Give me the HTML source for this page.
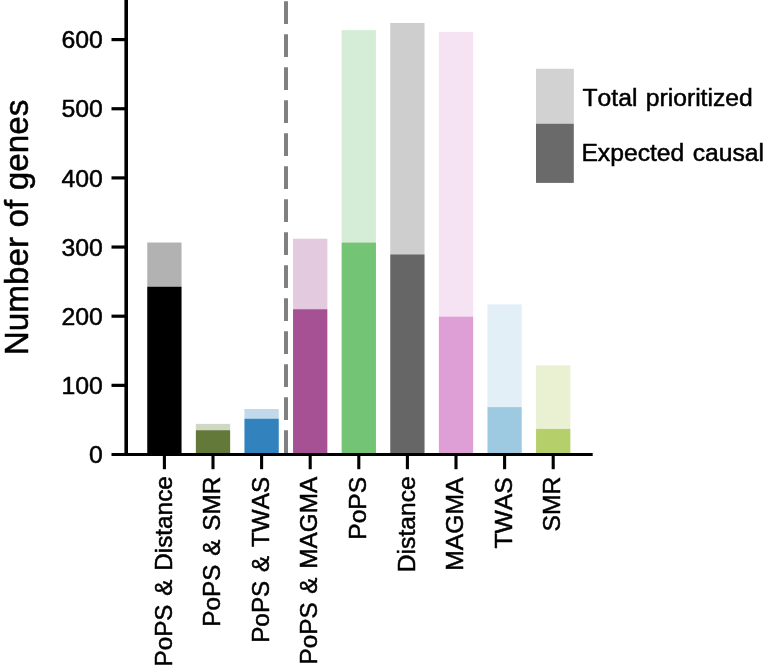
<!DOCTYPE html>
<html lang="en">
<head>
<meta charset="utf-8">
<title>Number of genes</title>
<style>
html,body{margin:0;padding:0;background:#fff;}
body{width:765px;height:668px;overflow:hidden;}
svg{display:block;}
text{font-family:"Liberation Sans",Arial,Helvetica,sans-serif;fill:#000;font-kerning:none;stroke:#000;stroke-width:0.5px;stroke-linejoin:round;}
.xl{font-size:24.7px;word-spacing:0.6px;}
.xc{font-size:24.3px;word-spacing:2px;}
.lg{font-size:24.7px;word-spacing:1.5px;}
.yl{font-size:33.3px;word-spacing:0.2px;}
.tk{font-size:24.8px;}
</style>
</head>
<body>
<svg width="765" height="668" viewBox="0 0 765 668">
<rect x="0" y="0" width="765" height="668" fill="#ffffff"/>
<rect x="147.25" y="242.50" width="34.3" height="44.20" fill="#000000" fill-opacity="0.3"/>
<rect x="147.25" y="286.70" width="34.3" height="166.50" fill="#000000"/>
<rect x="195.85" y="423.90" width="34.3" height="6.30" fill="#637939" fill-opacity="0.3"/>
<rect x="195.85" y="430.20" width="34.3" height="23.00" fill="#637939"/>
<rect x="244.45" y="409.00" width="34.3" height="9.70" fill="#3182bd" fill-opacity="0.3"/>
<rect x="244.45" y="418.70" width="34.3" height="34.50" fill="#3182bd"/>
<rect x="293.05" y="238.70" width="34.3" height="70.50" fill="#a55194" fill-opacity="0.3"/>
<rect x="293.05" y="309.20" width="34.3" height="144.00" fill="#a55194"/>
<rect x="341.65" y="30.10" width="34.3" height="212.40" fill="#74c476" fill-opacity="0.3"/>
<rect x="341.65" y="242.50" width="34.3" height="210.70" fill="#74c476"/>
<rect x="390.25" y="23.00" width="34.3" height="231.40" fill="#cecece"/>
<rect x="390.25" y="254.40" width="34.3" height="198.80" fill="#666666"/>
<rect x="438.85" y="31.90" width="34.3" height="284.70" fill="#de9ed6" fill-opacity="0.3"/>
<rect x="438.85" y="316.60" width="34.3" height="136.60" fill="#de9ed6"/>
<rect x="487.45" y="304.40" width="34.3" height="102.70" fill="#9ecae1" fill-opacity="0.3"/>
<rect x="487.45" y="407.10" width="34.3" height="46.10" fill="#9ecae1"/>
<rect x="536.05" y="365.30" width="34.3" height="63.60" fill="#b5cf6b" fill-opacity="0.3"/>
<rect x="536.05" y="428.90" width="34.3" height="24.30" fill="#b5cf6b"/>
<line x1="286" y1="452.90" x2="286" y2="-20" stroke="#808080" stroke-width="4" stroke-dasharray="22.6 10.4"/>
<line x1="126.2" y1="0" x2="126.2" y2="456.10" stroke="#000" stroke-width="3.6"/>
<line x1="111.5" y1="454.5" x2="592.7" y2="454.5" stroke="#000" stroke-width="3.2"/>
<line x1="111.5" y1="385.35" x2="126.2" y2="385.35" stroke="#000" stroke-width="3.2"/>
<line x1="111.5" y1="316.20" x2="126.2" y2="316.20" stroke="#000" stroke-width="3.2"/>
<line x1="111.5" y1="247.05" x2="126.2" y2="247.05" stroke="#000" stroke-width="3.2"/>
<line x1="111.5" y1="177.90" x2="126.2" y2="177.90" stroke="#000" stroke-width="3.2"/>
<line x1="111.5" y1="108.75" x2="126.2" y2="108.75" stroke="#000" stroke-width="3.2"/>
<line x1="111.5" y1="39.60" x2="126.2" y2="39.60" stroke="#000" stroke-width="3.2"/>
<text x="102.8" y="463.20" class="tk" text-anchor="end">0</text>
<text x="102.8" y="394.05" class="tk" text-anchor="end">100</text>
<text x="102.8" y="324.90" class="tk" text-anchor="end">200</text>
<text x="102.8" y="255.75" class="tk" text-anchor="end">300</text>
<text x="102.8" y="186.60" class="tk" text-anchor="end">400</text>
<text x="102.8" y="117.45" class="tk" text-anchor="end">500</text>
<text x="102.8" y="48.30" class="tk" text-anchor="end">600</text>
<line x1="164.4" y1="454.5" x2="164.4" y2="469.2" stroke="#000" stroke-width="3.1"/>
<text transform="translate(171.60,476.20) rotate(-90)" class="xc" text-anchor="end">PoPS &amp; Distance</text>
<line x1="213.0" y1="454.5" x2="213.0" y2="469.2" stroke="#000" stroke-width="3.1"/>
<text transform="translate(220.20,476.80) rotate(-90)" class="xc" text-anchor="end">PoPS &amp; SMR</text>
<line x1="261.6" y1="454.5" x2="261.6" y2="469.2" stroke="#000" stroke-width="3.1"/>
<text transform="translate(268.80,476.80) rotate(-90)" class="xc" text-anchor="end">PoPS &amp; TWAS</text>
<line x1="310.2" y1="454.5" x2="310.2" y2="469.2" stroke="#000" stroke-width="3.1"/>
<text transform="translate(317.40,476.90) rotate(-90)" class="xc" text-anchor="end">PoPS &amp; MAGMA</text>
<line x1="358.8" y1="454.5" x2="358.8" y2="469.2" stroke="#000" stroke-width="3.1"/>
<text transform="translate(366.00,476.70) rotate(-90)" class="xl" text-anchor="end">PoPS</text>
<line x1="407.4" y1="454.5" x2="407.4" y2="469.2" stroke="#000" stroke-width="3.1"/>
<text transform="translate(414.60,476.20) rotate(-90)" class="xl" text-anchor="end">Distance</text>
<line x1="456.0" y1="454.5" x2="456.0" y2="469.2" stroke="#000" stroke-width="3.1"/>
<text transform="translate(463.20,477.50) rotate(-90)" class="xl" text-anchor="end">MAGMA</text>
<line x1="504.6" y1="454.5" x2="504.6" y2="469.2" stroke="#000" stroke-width="3.1"/>
<text transform="translate(511.80,477.20) rotate(-90)" class="xl" text-anchor="end">TWAS</text>
<line x1="553.2" y1="454.5" x2="553.2" y2="469.2" stroke="#000" stroke-width="3.1"/>
<text transform="translate(560.40,476.60) rotate(-90)" class="xl" text-anchor="end">SMR</text>
<text transform="translate(28.2,227.4) rotate(-90)" class="yl" text-anchor="middle">Number of genes</text>
<rect x="536" y="68.8" width="37.8" height="54.9" fill="#d2d2d2"/>
<rect x="536" y="123.7" width="37.8" height="59.2" fill="#6a6a6a"/>
<text x="582.5" y="105.7" class="lg">Total prioritized</text>
<text x="581.4" y="160.6" class="lg">Expected causal</text>
</svg>
</body>
</html>
